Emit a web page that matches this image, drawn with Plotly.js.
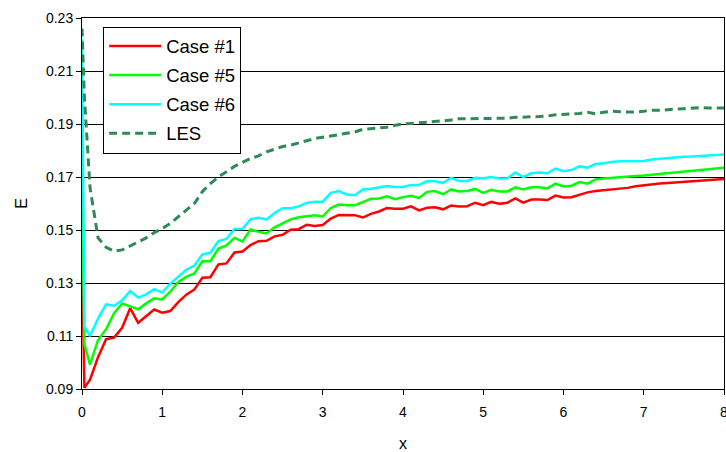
<!DOCTYPE html>
<html>
<head>
<meta charset="utf-8">
<script src="https://cdn.plot.ly/plotly-3.0.1.min.js"></script>
<style>
  html, body { margin: 0; padding: 0; background: #ffffff; }
  #chart { width: 726px; height: 452px; }
</style>
</head>
<body>
<div id="chart"></div>
<script>
// Streamwise position
const xValues = [0, 0.03, 0.1, 0.2, 0.3, 0.4, 0.5, 0.6, 0.7, 0.8, 0.9,
  1.0, 1.1, 1.2, 1.3, 1.4, 1.5, 1.6, 1.7, 1.8, 1.9,
  2.0, 2.1, 2.2, 2.3, 2.4, 2.5, 2.6, 2.7, 2.8, 2.9,
  3.0, 3.1, 3.2, 3.3, 3.4, 3.5, 3.6, 3.7, 3.8, 3.9,
  4.0, 4.1, 4.2, 4.3, 4.4, 4.5, 4.6, 4.7, 4.8, 4.9,
  5.0, 5.1, 5.2, 5.3, 5.4, 5.5, 5.6, 5.7, 5.8, 5.9,
  6.0, 6.1, 6.2, 6.3, 6.4, 6.5, 6.6, 6.7, 6.8, 6.9,
  7.0, 7.1, 7.2, 7.3, 7.4, 7.5, 7.6, 7.7, 7.8, 7.9, 8.0];

const case1 = [0.140, 0.0905, 0.0935, 0.1020, 0.1088, 0.1094, 0.1131, 0.1205, 0.1150, 0.1175, 0.1200,
  0.1188, 0.1194, 0.1228, 0.1256, 0.1275, 0.1320, 0.1322, 0.1370, 0.1374, 0.1415,
  0.1419, 0.1443, 0.1458, 0.1459, 0.1476, 0.1482, 0.1501, 0.1503, 0.1520, 0.1515,
  0.1519, 0.1543, 0.1557, 0.1556, 0.1556, 0.1547, 0.1561, 0.1570, 0.1583, 0.1580,
  0.1580, 0.1589, 0.1574, 0.1584, 0.1586, 0.1578, 0.1592, 0.1589, 0.1590, 0.1603,
  0.1594, 0.1606, 0.1599, 0.1603, 0.1619, 0.1603, 0.1615, 0.1615, 0.1613, 0.1630,
  0.1623, 0.1624, 0.1634, 0.1642, 0.1647, 0.1650, 0.1655, 0.1656, 0.1659, 0.1665,
  0.1669, 0.1673, 0.1675, 0.1677, 0.1679, 0.1681, 0.1683, 0.1685, 0.1686, 0.1688, 0.1692];

const case5 = [0.165, 0.1070, 0.0992, 0.1085, 0.1125, 0.1186, 0.1223, 0.1211, 0.1201, 0.1223, 0.1242,
  0.1238, 0.1267, 0.1304, 0.1323, 0.1336, 0.1382, 0.1382, 0.1430, 0.1442, 0.1470,
  0.1457, 0.1502, 0.1493, 0.1487, 0.1510, 0.1526, 0.1540, 0.1548, 0.1553, 0.1556,
  0.1551, 0.1583, 0.1596, 0.1593, 0.1593, 0.1605, 0.1618, 0.1619, 0.1627, 0.1616,
  0.1624, 0.1629, 0.1621, 0.1644, 0.1647, 0.1635, 0.1653, 0.1645, 0.1647, 0.1655,
  0.1640, 0.1652, 0.1645, 0.1645, 0.1661, 0.1653, 0.1661, 0.1661, 0.1657, 0.1675,
  0.1664, 0.1667, 0.1681, 0.1675, 0.1691, 0.1694, 0.1697, 0.1699, 0.1701, 0.1704,
  0.1706, 0.1709, 0.1711, 0.1714, 0.1717, 0.1720, 0.1723, 0.1726, 0.1729, 0.1732, 0.1735];

const case6 = [0.222, 0.1135, 0.1100, 0.1166, 0.1219, 0.1214, 0.1235, 0.1270, 0.1245, 0.1257, 0.1277,
  0.1264, 0.1298, 0.1323, 0.1350, 0.1366, 0.1408, 0.1414, 0.1458, 0.1466, 0.1504,
  0.1504, 0.1541, 0.1546, 0.1540, 0.1564, 0.1582, 0.1582, 0.1589, 0.1602, 0.1607,
  0.1607, 0.1640, 0.1647, 0.1634, 0.1631, 0.1653, 0.1656, 0.1662, 0.1666, 0.1662,
  0.1662, 0.1670, 0.1670, 0.1684, 0.1684, 0.1678, 0.1697, 0.1685, 0.1685, 0.1697,
  0.1695, 0.1700, 0.1694, 0.1695, 0.1717, 0.1700, 0.1714, 0.1717, 0.1714, 0.1732,
  0.1722, 0.1726, 0.1740, 0.1735, 0.1749, 0.1752, 0.1757, 0.1759, 0.1760, 0.1760,
  0.1760, 0.1766, 0.1769, 0.1771, 0.1774, 0.1776, 0.1777, 0.1779, 0.1782, 0.1784, 0.1785];

const les = [0.226, 0.200, 0.166, 0.147, 0.1435, 0.1420, 0.1425, 0.1440, 0.1455, 0.1470, 0.1490,
  0.1505, 0.1525, 0.1550, 0.1575, 0.1600, 0.1645, 0.1675, 0.1700, 0.1720, 0.1740,
  0.1755, 0.1770, 0.1780, 0.1795, 0.1805, 0.1815, 0.1820, 0.1830, 0.1837, 0.1845,
  0.1850, 0.1856, 0.1860, 0.1866, 0.1870, 0.1880, 0.1882, 0.1884, 0.1888, 0.1895,
  0.1900, 0.1902, 0.1904, 0.1907, 0.1910, 0.1912, 0.1915, 0.1920, 0.1920, 0.1920,
  0.1920, 0.1920, 0.1920, 0.1922, 0.1925, 0.1925, 0.1927, 0.1928, 0.1930, 0.1935,
  0.1937, 0.1937, 0.1940, 0.1944, 0.1938, 0.1944, 0.1948, 0.1946, 0.1945, 0.1945,
  0.1948, 0.1952, 0.1952, 0.1955, 0.1956, 0.1958, 0.1960, 0.1962, 0.1960, 0.1960, 0.1960];

const seriesNames = ['Case #1', 'Case #5', 'Case #6', 'LES'];

const font = 'Liberation Sans, Arial, sans-serif';

const traces = [
  { x: xValues, y: case1, name: seriesNames[0], legendgroup: 'c1', mode: 'lines',
    line: { color: '#ff0000', width: 2.5 } },
  { x: xValues, y: case5, name: seriesNames[1], legendgroup: 'c5', mode: 'lines',
    line: { color: '#00ff00', width: 2.5 } },
  { x: xValues, y: case6, name: seriesNames[2], legendgroup: 'c6', mode: 'lines',
    line: { color: '#00ffff', width: 2.5 } },
  { x: xValues, y: les, name: seriesNames[3], legendgroup: 'les', mode: 'lines',
    line: { color: '#2e8b57', width: 3, dash: '8px,5px' } }
];

const layout = {
  width: 726,
  height: 452,
  margin: { l: 82, r: 2, t: 18, b: 63 },
  paper_bgcolor: '#ffffff',
  plot_bgcolor: '#ffffff',
  font: { family: font, size: 14, color: '#000000' },
  showlegend: true,
  legend: {
    x: 0.033, y: 0.977, xanchor: 'left', yanchor: 'top',
    bgcolor: '#ffffff', bordercolor: '#000000', borderwidth: 1,
    font: { family: font, size: 18.5, color: '#000000' },
    tracegroupgap: 2,
    itemwidth: 52
  },
  xaxis: {
    range: [0, 8], dtick: 1, tick0: 0,
    showgrid: false, zeroline: false,
    showline: true, linecolor: '#000000', linewidth: 1, mirror: true,
    ticks: 'outside', ticklen: 5, tickcolor: '#000000',
    ticklabeloverflow: 'allow', ticklabelstandoff: 5,
    tickfont: { family: font, size: 14 },
    title: { text: 'x', font: { family: font, size: 16 }, standoff: 20 }
  },
  yaxis: {
    range: [0.09, 0.23], dtick: 0.02, tick0: 0.09, tickformat: '.2f',
    showgrid: true, gridcolor: '#000000', gridwidth: 1, zeroline: false,
    showline: true, linecolor: '#000000', linewidth: 1, mirror: true,
    ticks: 'outside', ticklen: 5, tickcolor: '#000000',
    tickfont: { family: font, size: 14 },
    title: { text: 'E', font: { family: font, size: 16 }, standoff: 14 }
  }
};

Plotly.newPlot('chart', traces, layout, { displayModeBar: false, staticPlot: true });
</script>
</body>
</html>
